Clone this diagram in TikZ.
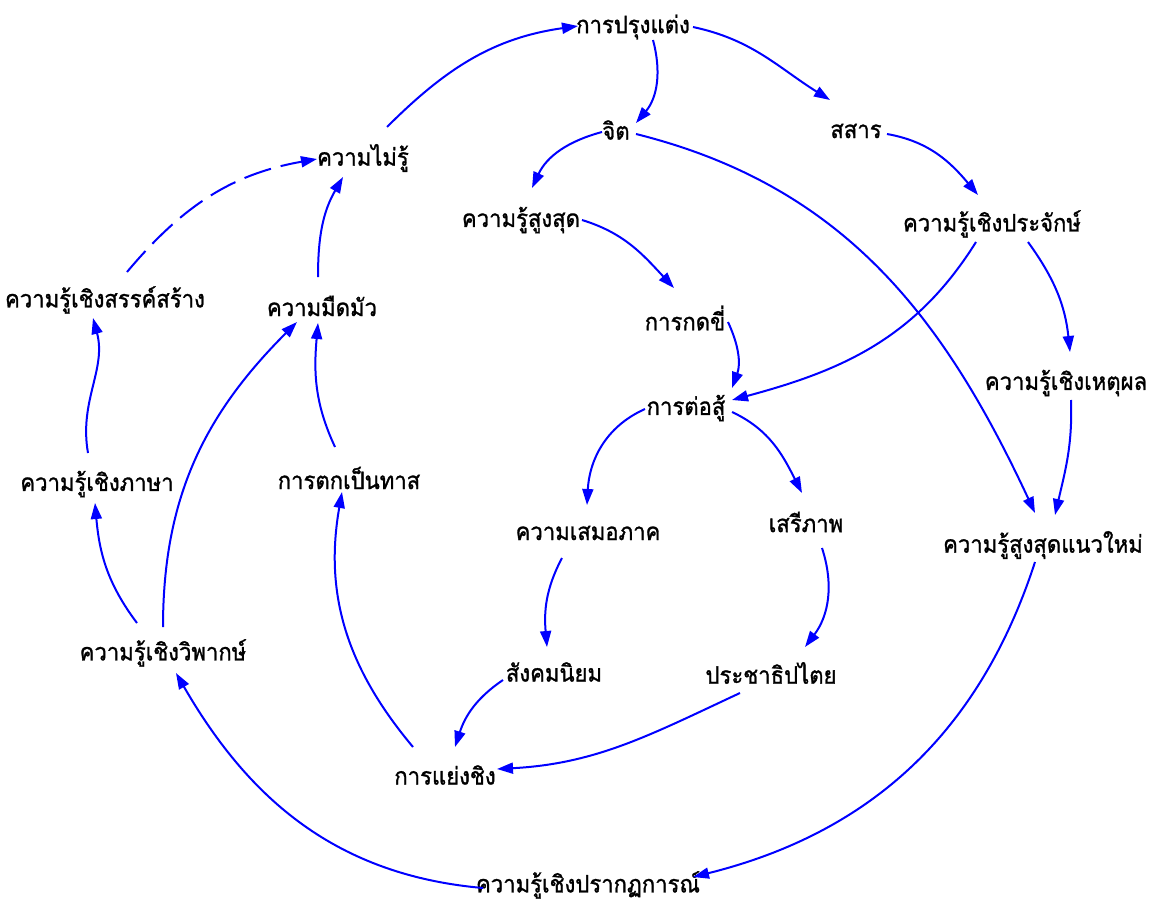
\documentclass[tikz,border=0pt]{standalone}
\usepackage{fontspec}
\newfontfamily\thai[Script=Thai,FakeStretch=0.92,FakeBold=1.2]{Loma}
\usetikzlibrary{arrows.meta}
\definecolor{linkblue}{RGB}{0,0,255}
\begin{document}
\begin{tikzpicture}[x=1pt,y=1pt,
  lbl/.style={font=\thai\fontsize{24}{26}\selectfont, inner sep=0pt, text=black},
  arr/.style={draw=linkblue, line width=2pt, -{Triangle[length=16pt,width=11pt]}},
  dsh/.style={arr, dash pattern=on 28pt off 10pt}]
\useasboundingbox[fill=white] (0,0) rectangle (1151,-902);
\node[lbl] (prung) at (633,-27) {การปรุงแต่ง};
\node[lbl] (chit) at (616,-130) {จิต};
\node[lbl] (satsan) at (856,-131) {สสาร};
\node[lbl] (maiiru) at (363,-158) {ความไม่รู้};
\node[lbl] (sungsut) at (521,-220) {ความรู้สูงสุด};
\node[lbl] (prachak) at (992,-224) {ความรู้เชิงประจักษ์};
\node[lbl] (sanserng) at (105,-300) {ความรู้เชิงสรรค์สร้าง};
\node[lbl] (meudmua) at (322,-306) {ความมืดมัว};
\node[lbl] (kodkhi) at (685,-318) {การกดขี่};
\node[lbl] (torsu) at (686,-408) {การต่อสู้};
\node[lbl] (hetphon) at (1066,-383) {ความรู้เชิงเหตุผล};
\node[lbl] (phasa) at (97,-484) {ความรู้เชิงภาษา};
\node[lbl] (that) at (349,-478) {การตกเป็นทาส};
\node[lbl] (samoe) at (588,-533) {ความเสมอภาค};
\node[lbl] (seri) at (806,-522) {เสรีภาพ};
\node[lbl] (mai) at (1043,-545) {ความรู้สูงสุดแนวใหม่};
\node[lbl] (wiphak) at (163,-653) {ความรู้เชิงวิพากษ์};
\node[lbl] (sangkhom) at (554,-672) {สังคมนิยม};
\node[lbl] (prachathi) at (771,-673) {ประชาธิปไตย};
\node[lbl] (yaeng) at (445,-775) {การแย่งชิง};
\node[lbl] (prakot) at (588,-885) {ความรู้เชิงปรากฏการณ์};
% connectors
\draw[arr] ([shift={(24,31)}]maiiru.center) to[out=45,in=188] ([shift={(-55,1)}]prung.center);
\draw[arr] ([shift={(20,-13)}]prung.center) to[out=-75,in=50] ([shift={(20,7)}]chit.center);
\draw[arr] ([shift={(60,0)}]prung.center) to[out=-12,in=148] ([shift={(-26,31)}]satsan.center);
\draw[arr] ([shift={(-14,-2)}]chit.center) to[out=195,in=65] ([shift={(11,32)}]sungsut.center);
\draw[arr] ([shift={(20,-4)}]chit.center) to[out=-14,in=115] ([shift={(-8,32)}]mai.center);
\draw[arr] ([shift={(31,-3)}]satsan.center) to[out=-10,in=130] ([shift={(-14,29)}]prachak.center);
\draw[arr] ([shift={(61,0)}]sungsut.center) to[out=-17,in=133] ([shift={(-11,30)}]kodkhi.center);
\draw[arr] ([shift={(43,-4)}]kodkhi.center) to[out=-65,in=70] ([shift={(46,20)}]torsu.center);
\draw[arr] ([shift={(-16,-18)}]prachak.center) to[out=-122,in=15] ([shift={(46,8)}]torsu.center);
\draw[arr] ([shift={(36,-18)}]prachak.center) to[out=-54,in=96] ([shift={(4,31)}]hetphon.center);
\draw[arr] ([shift={(5,-17)}]hetphon.center) to[out=-88,in=77] ([shift={(12,30)}]mai.center);
\draw[arr] ([shift={(-41,-1)}]torsu.center) to[out=204,in=87] ([shift={(-1,28)}]samoe.center);
\draw[arr] ([shift={(46,-4)}]torsu.center) to[out=-25,in=117] ([shift={(-4,29)}]seri.center);
\draw[arr] ([shift={(-26,-25)}]samoe.center) to[out=-118,in=95] ([shift={(-7,25)}]sangkhom.center);
\draw[arr] ([shift={(16,-26)}]seri.center) to[out=-72,in=53] ([shift={(34,26)}]prachathi.center);
\draw[arr] ([shift={(-51,-8)}]sangkhom.center) to[out=214,in=72] ([shift={(10,28)}]yaeng.center);
\draw[arr] ([shift={(-31,-20)}]prachathi.center) to[out=205,in=3] ([shift={(52,6)}]yaeng.center);
\draw[arr] ([shift={(-32,28)}]yaeng.center) to[out=130,in=-100] ([shift={(-7,-14)}]that.center);
\draw[arr] ([shift={(-14,31)}]that.center) to[out=115,in=-95] ([shift={(-4,-17)}]meudmua.center);
\draw[arr] ([shift={(-4,29)}]meudmua.center) to[out=90,in=-120] ([shift={(-20,-19)}]maiiru.center);
\draw[dsh] ([shift={(22,28)}]sanserng.center) to[out=50,in=190] ([shift={(-46,-1)}]maiiru.center);
\draw[arr] ([shift={(-9,31)}]phasa.center) to[out=100,in=-75] ([shift={(-12,-18)}]sanserng.center);
\draw[arr] ([shift={(-26,30)}]wiphak.center) to[out=127,in=-85] ([shift={(-2,-19)}]phasa.center);
\draw[arr] ([shift={(0,26)}]wiphak.center) to[out=90,in=-135] ([shift={(-25,-16)}]meudmua.center);
\draw[arr] ([shift={(-105,-3)}]prakot.center) to[out=175,in=-60] ([shift={(13,-20)}]wiphak.center);
\draw[arr] ([shift={(-8,-17)}]mai.center) to[out=-108,in=14] ([shift={(105,8)}]prakot.center);
\end{tikzpicture}
\end{document}
